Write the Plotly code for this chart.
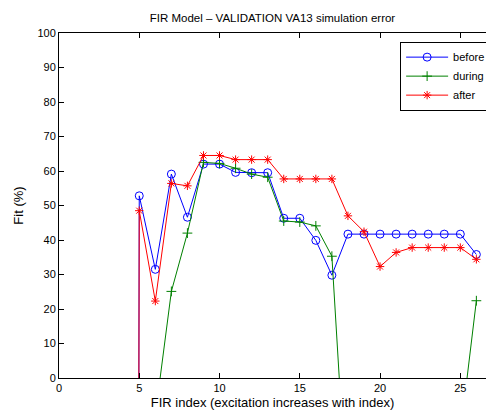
import plotly.graph_objects as go

fir_index = list(range(1, 27))
before = [-2000, -2000, -2000, -2000, 52.8, 31.5, 59.1, 46.6, 62.0, 62.0, 59.6, 59.5, 59.5, 46.3, 46.3,
          39.9, 29.8, 41.7, 41.7, 41.7, 41.7, 41.7, 41.7, 41.7, 41.7, 35.8]
during = [-60, -60, -60, -60, -50, -10.7, 25.1, 42.0, 62.5, 62.2, 60.8, 59.1, 58.2, 45.5, 45.2,
          44.1, 35.3, -41.7, -40, -40, -40, -40, -30, -25, -16.2, 22.4]
after = [-2000, -2000, -2000, -2000, 48.5, 22.3, 56.4, 55.7, 64.5, 64.5, 63.3, 63.3, 63.3, 57.7, 57.7,
         57.7, 57.7, 47.0, 42.4, 32.3, 36.4, 37.8, 37.8, 37.8, 37.8, 34.4]

x_ticks = [0, 5, 10, 15, 20, 25]
y_ticks = [0, 10, 20, 30, 40, 50, 60, 70, 80, 90, 100]

fig = go.Figure()
fig.add_trace(go.Scatter(x=fir_index, y=before, name="before", mode="lines+markers",
                         line=dict(color="#0000FF", width=1),
                         marker=dict(symbol="circle-open", size=8, color="#0000FF", line=dict(width=1))))
fig.add_trace(go.Scatter(x=fir_index, y=during, name="during", mode="lines+markers",
                         line=dict(color="#008000", width=1),
                         marker=dict(symbol="cross-thin", size=7, color="#008000", line=dict(width=1, color="#008000"))))
fig.add_trace(go.Scatter(x=fir_index, y=after, name="after", mode="lines+markers",
                         line=dict(color="#FF0000", width=1),
                         marker=dict(symbol="asterisk-open", size=7, color="#FF0000", line=dict(width=1, color="#FF0000"))))

font = "Liberation Sans, Arial, Helvetica, sans-serif"
fig.update_layout(
    width=486, height=414,
    margin=dict(l=59, r=0, t=33, b=36, autoexpand=False),
    paper_bgcolor="white", plot_bgcolor="white",
    font=dict(family=font, size=11, color="black"),
    title=dict(text="FIR Model \u2013 VALIDATION VA13 simulation error", x=0.5, xref="paper",
               xanchor="center", y=1 - 18 / 414, yanchor="middle", font=dict(size=11.5)),
    xaxis=dict(range=[0, 26.6], tickvals=x_ticks, ticks="inside", ticklen=5, tickcolor="black",
               showline=True, linecolor="black", linewidth=1, mirror="ticks", showgrid=False,
               zeroline=False, title=dict(text="FIR index (excitation increases with index)", standoff=4),
               tickfont=dict(size=11)),
    yaxis=dict(range=[0, 100], tickvals=y_ticks, ticks="inside", ticklen=5, tickcolor="black",
               showline=True, linecolor="black", linewidth=1, showgrid=False, zeroline=False,
               title=dict(text="Fit (%)", standoff=10), tickfont=dict(size=11)),
    legend=dict(x=1.012, xanchor="right", y=0.975, yanchor="top", bgcolor="white",
                bordercolor="black", borderwidth=1, font=dict(size=11),
                tracegroupgap=0, itemwidth=42),
    showlegend=True,
)
fig.write_html("out.html")
